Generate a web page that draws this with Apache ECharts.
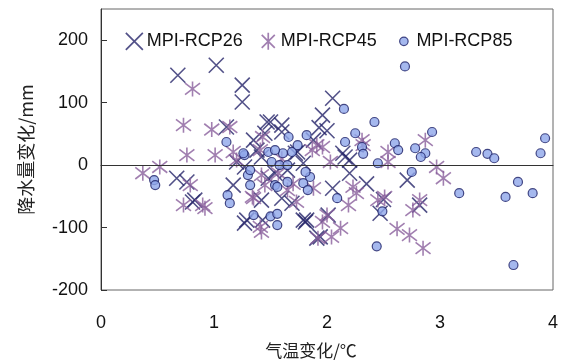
<!DOCTYPE html>
<html>
<head>
<meta charset="utf-8">
<script src="https://cdn.jsdelivr.net/npm/echarts@6/dist/echarts.min.js"></script>
<style>html,body{margin:0;padding:0;background:#fff;}#c{width:562px;height:364px;}</style>
</head>
<body>
<div id="c"></div>
<script>
var seriesNames = ['MPI-RCP26', 'MPI-RCP45', 'MPI-RCP85'];
var xTicks = [0, 1, 2, 3, 4];
var yTicks = [-200, -100, 0, 100, 200];

var rcp26 = [[0.68,144],[1.02,160],[1.25,128],[1.25,101],[1.47,69],[2.05,107],[1.96,80],[1.93,60],[2.0,55],[2.71,-24],[2.47,-77],[2.82,-64],[1.82,-88],[2.14,19],[2.2,8],[0.67,-21],[0.81,-59],[1.17,-32],[1.29,-88],[1.43,-88],[1.60,-53],[1.79,-88],[1.27,-3],[1.38,24],[1.54,-13],[1.94,-115],[1.72,19],[1.60,53],[1.50,69],[1.60,64],[1.45,51],[1.88,40],[1.74,21],[1.79,3],[1.65,-8],[1.42,13],[1.69,-61],[1.81,-91],[1.42,-56],[1.48,-21],[1.91,-117],[2.01,-80],[0.83,-56],[0.76,-27],[1.27,-93],[2.16,13],[2.05,-37],[2.2,-13],[1.11,61],[1.35,40],[1.2,5],[2.5,-55],[2.35,-30]];

var rcp45 = [[0.81,122],[0.73,64],[0.98,57],[0.37,-13],[0.52,-3],[0.76,16],[0.79,-32],[0.73,-64],[0.92,-69],[1.01,16],[1.17,21],[1.35,-53],[1.42,-107],[1.73,-59],[1.65,-40],[1.96,-91],[1.92,-117],[1.96,29],[2.97,-3],[3.03,-21],[2.82,-56],[2.76,-72],[2.62,-102],[2.73,-112],[2.85,-133],[2.51,-51],[2.45,-56],[2.23,-35],[2.19,-64],[2.26,-45],[2.0,-80],[2.12,-101],[2.04,-115],[2.32,32],[2.54,5],[2.03,5],[1.91,32],[1.88,-37],[2.31,40],[2.54,21],[2.87,40],[1.14,61],[1.43,45],[1.2,8],[1.41,24],[1.87,24],[1.57,-13],[1.42,-16],[1.45,-32],[1.41,-99],[0.9,-64],[1.34,-51],[1.6,10],[1.7,-30]];

var rcp85 = [[0.47,-24],[0.48,-32],[1.12,-48],[1.14,-61],[1.30,-16],[1.32,-32],[1.35,-80],[1.50,-82],[1.56,-78],[1.56,-96],[1.54,-32],[1.65,-27],[1.79,-29],[1.85,-19],[1.83,-40],[1.27,16],[1.48,21],[1.51,5],[1.58,0],[1.65,0],[1.61,19],[1.69,21],[1.74,32],[1.11,37],[1.66,45],[1.82,48],[2.69,158],[2.15,90],[2.42,69],[2.16,37],[2.25,51],[2.31,29],[2.32,18],[2.60,35],[2.63,24],[2.78,27],[2.87,19],[2.83,13],[2.93,53],[3.32,21],[3.42,18],[3.48,11],[3.93,43],[3.89,19],[2.45,3],[2.75,-11],[3.17,-45],[3.69,-27],[3.58,-51],[3.82,-45],[2.49,-74],[2.44,-130],[3.65,-160],[2.09,-53],[1.54,24],[1.81,-11],[1.32,-8],[1.26,19],[1.56,-35]];

var xPath = 'path://M0,0L10,10M10,0L0,10';
var aPath = 'path://M0,0L10,10M10,0L0,10M5,-1.5L5,11.5';
var cPath = 'path://M0,0M16,16M4,8A4,4,0,1,0,12,8A4,4,0,1,0,4,8Z';
var c26 = '#27266a', c45 = '#8a5f9c';
var chart = echarts.init(document.getElementById('c'));
chart.setOption({
  animation: false,
  backgroundColor: '#fff',
  grid: {left: 101, right: 9, top: 9, bottom: 74, show: true, borderColor: '#666', borderWidth: 1, backgroundColor: 'transparent'},
  legend: {
    left: 120, top: 27, itemGap: 18, itemWidth: 17, itemHeight: 17,
    textStyle: {fontFamily: 'Liberation Sans', fontSize: 18, color: '#111', padding: [0, 0, 0, -1]},
    data: [
      {name: seriesNames[0], icon: xPath, itemStyle: {color: 'transparent', borderColor: c26, borderWidth: 1.7}},
      {name: seriesNames[1], icon: aPath, itemStyle: {color: 'transparent', borderColor: c45, borderWidth: 1.7}},
      {name: seriesNames[2], icon: cPath, itemStyle: {color: '#8fa6ea', borderColor: '#1c1f66', borderWidth: 1.2}}
    ]
  },
  xAxis: {
    type: 'value', min: xTicks[0], max: xTicks[xTicks.length-1], interval: 1,
    name: '气温变化/℃', nameLocation: 'middle', nameGap: 52,
    nameTextStyle: {fontFamily: 'Noto Sans CJK SC', fontSize: 17, color: '#222', padding: [0, 32, 0, 0]},
    axisLine: {show: true, lineStyle: {color: '#333'}},
    axisTick: {show: false},
    splitLine: {show: false},
    axisLabel: {fontFamily: 'Liberation Sans', fontSize: 18, color: '#111', margin: 24}
  },
  yAxis: {
    type: 'value', min: yTicks[0], max: 250, interval: 100,
    name: '降水量变化/mm', nameLocation: 'middle', nameGap: 66,
    nameTextStyle: {fontFamily: 'Noto Sans CJK SC', fontSize: 18, color: '#222'},
    axisLine: {show: true, lineStyle: {color: '#333'}},
    axisTick: {show: true, inside: true, length: 6, lineStyle: {color: '#333'}},
    splitLine: {show: false},
    axisLabel: {fontFamily: 'Liberation Sans', fontSize: 18, color: '#111', margin: 13, showMaxLabel: false}
  },
  series: [
    {name: seriesNames[0], type: 'scatter', data: rcp26, symbol: xPath, symbolSize: 15,
     itemStyle: {color: 'transparent', borderColor: c26, borderWidth: 1.6},
     markLine: {silent: true, symbol: 'none', label: {show: false}, lineStyle: {color: '#333', width: 1, type: 'solid'}, data: [{yAxis: 0}]}},
    {name: seriesNames[1], type: 'scatter', data: rcp45, symbol: aPath, symbolSize: 15,
     itemStyle: {color: 'transparent', borderColor: c45, borderWidth: 1.6}},
    {name: seriesNames[2], type: 'scatter', data: rcp85, symbol: 'circle', symbolSize: 9,
     itemStyle: {color: '#8fa6ea', borderColor: '#1c1f66', borderWidth: 1.2}}
  ]
});
</script>
</body>
</html>
